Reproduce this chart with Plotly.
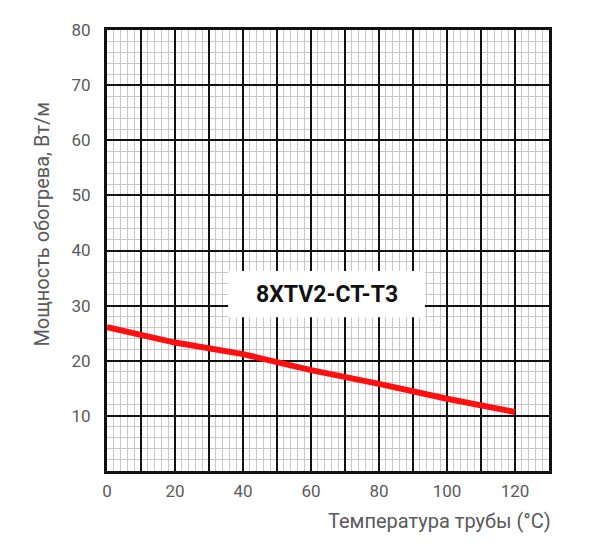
import plotly.graph_objects as go

# Данные кривой мощности 8XTV2-CT-T3
temperatura = [0, 20, 40, 60, 80, 100, 120]
moshchnost = [26.1, 23.3, 21.2, 18.3, 15.8, 13.1, 10.7]

x_ticks = [0, 20, 40, 60, 80, 100, 120]
y_ticks = [10, 20, 30, 40, 50, 60, 70, 80]

nazvanie = "8XTV2-CT-T3"
x_title = "Температура трубы (°C)"
y_title = "Мощность обогрева, Вт/м"

COR_LINHA = '#ff1010'
COR_TEXTO = '#5a5a5a'
COR_MINOR = '#c8c8c8'

fig = go.Figure()

fig.add_trace(go.Scatter(
    x=temperatura, y=moshchnost,
    mode='lines',
    line=dict(color=COR_LINHA, width=6),
    hoverinfo='skip',
    showlegend=False
))

eixo_comum = dict(
    showline=True, mirror=True, linecolor='#111111', linewidth=3,
    showgrid=True, gridcolor='#111111', gridwidth=2,
    zeroline=False, ticks='',
    tickfont=dict(family='Roboto', size=17, color=COR_TEXTO),
)

fig.update_xaxes(
    range=[0, 130], tickvals=list(range(0, 130, 10)),
    ticktext=[str(v) if v in x_ticks else '' for v in range(0, 130, 10)],
    minor=dict(dtick=2, tick0=0, showgrid=True, gridcolor=COR_MINOR, gridwidth=1),
    ticklabelstandoff=3,
    **eixo_comum
)
fig.update_yaxes(
    range=[0, 80], tickvals=[0] + y_ticks,
    ticktext=[''] + [str(v) for v in y_ticks],
    minor=dict(dtick=2, tick0=0, showgrid=True, gridcolor=COR_MINOR, gridwidth=1),
    ticklabelstandoff=10,
    **eixo_comum
)

# Белая плашка с названием кабеля
fig.add_shape(type='rect', x0=35.6, x1=93.5, y0=27.9, y1=36.3,
              xref='x', yref='y', fillcolor='white', line=dict(width=0), layer='above')
fig.add_annotation(x=64.8, y=32.0, xref='x', yref='y', text=f'<b>{nazvanie}</b>',
                   showarrow=False, font=dict(family='Roboto', size=23, color='#111111'))

fig.add_annotation(x=1.01, y=-0.113, xref='paper', yref='paper', text=x_title,
                   xanchor='right', yanchor='middle', showarrow=False,
                   font=dict(family='Roboto', size=20, color=COR_TEXTO))
fig.add_annotation(x=-0.148, y=0.56, xref='paper', yref='paper', text=y_title,
                   textangle=-90, xanchor='center', yanchor='middle', showarrow=False,
                   font=dict(family='Roboto', size=20, color=COR_TEXTO))

# страница добавляет отступ 8px у body, поэтому фигура чуть меньше окна
fig.update_layout(
    width=581, height=544,
    margin=dict(l=99, r=40, t=15, b=81),
    paper_bgcolor='white', plot_bgcolor='white',
)

fig.write_html("out.html")
